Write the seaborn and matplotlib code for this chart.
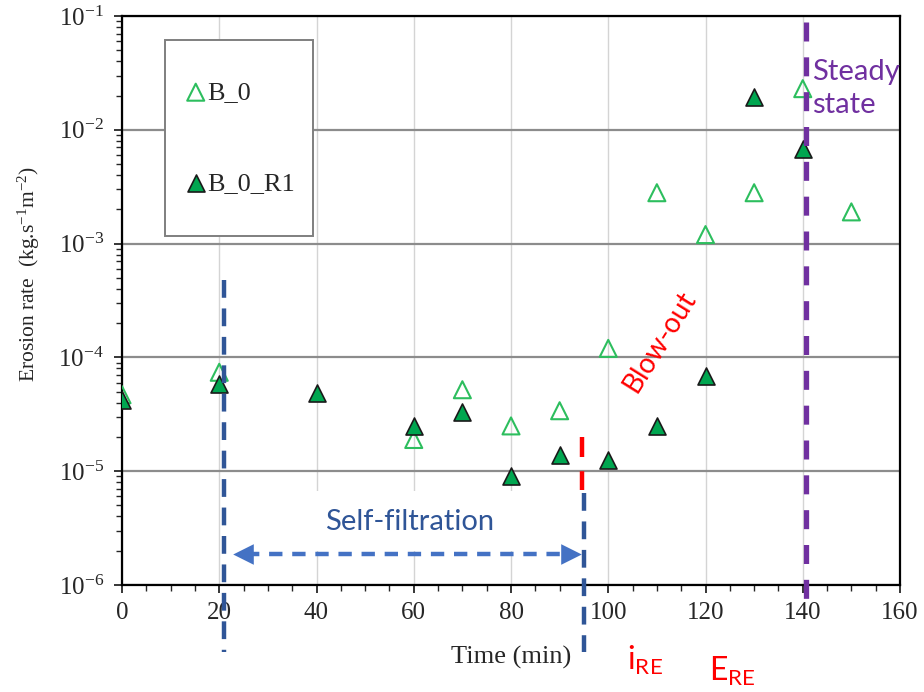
import numpy as np
import pandas as pd
import matplotlib
matplotlib.use("Agg")
import matplotlib.pyplot as plt
import seaborn as sns
from matplotlib.ticker import MultipleLocator, LogLocator, LogFormatterSciNotation, NullFormatter
from matplotlib.patches import Rectangle

# dados
time_b0 = [0, 20, 60, 70, 80, 90, 100, 110, 120, 130, 140, 150]
rate_b0 = [4.7e-5, 7.4e-5, 1.9e-5, 5.2e-5, 2.5e-5, 3.4e-5, 1.2e-4, 2.8e-3, 1.2e-3, 2.8e-3, 2.3e-2, 1.9e-3]

time_r1 = [0, 20, 40, 60, 70, 80, 90, 100, 110, 120, 130, 140]
rate_r1 = [4.2e-5, 5.8e-5, 4.9e-5, 2.5e-5, 3.3e-5, 9.1e-6, 1.4e-5, 1.25e-5, 2.5e-5, 6.9e-5, 1.95e-2, 6.8e-3]

# anotacoes
t_start = 21.0      # inicio self-filtration
t_ire = 95.0        # i_RE / blow-out
t_steady = 140.7    # steady state

df_b0 = pd.DataFrame({"time": time_b0, "rate": rate_b0})
df_r1 = pd.DataFrame({"time": time_r1, "rate": rate_r1})

sns.set_style("ticks")
plt.rcParams["font.family"] = ["Liberation Serif", "DejaVu Serif"]
plt.rcParams["mathtext.fontset"] = "custom"
plt.rcParams["mathtext.rm"] = "Liberation Serif"

SANS = ["Lato", "DejaVu Sans"]
DARKBLUE = "#2F5597"
ARROWBLUE = "#4472C4"
RED = "#FF0000"
PURPLE = "#7030A0"

fig = plt.figure(figsize=(9.24, 6.92), dpi=100)
ax = fig.add_axes([122 / 924, 1 - 585 / 692, 778 / 924, 569 / 692])

sns.scatterplot(data=df_b0, x="time", y="rate", marker="^", s=150,
                color="#2DBE5E", facecolor="none", edgecolor="#2DBE5E",
                linewidth=1.5, label="B_0", ax=ax, zorder=3)
sns.scatterplot(data=df_r1, x="time", y="rate", marker="^", s=150,
                color="#00A650", edgecolor="#1a1a1a",
                linewidth=1.2, label="B_0_R1", ax=ax, zorder=4)

ax.set_yscale("log")
ax.set_xlim(0, 160)
ax.set_ylim(1e-6, 1e-1)

ax.xaxis.set_major_locator(MultipleLocator(20))
ax.xaxis.set_minor_locator(MultipleLocator(5))
ax.yaxis.set_major_locator(LogLocator(base=10))
ax.yaxis.set_minor_locator(LogLocator(base=10, subs=np.arange(2, 10)))
ax.yaxis.set_major_formatter(LogFormatterSciNotation())
ax.yaxis.set_minor_formatter(NullFormatter())

ax.tick_params(axis="both", which="major", labelsize=18, length=6, width=1.3, direction="out", pad=6)
ax.tick_params(axis="both", which="minor", length=4, width=1.0, direction="out")
ax.tick_params(axis="y", which="major", labelsize=18, pad=7)

for sp in ax.spines.values():
    sp.set_linewidth(1.6)
    sp.set_color("black")

ax.set_axisbelow(True)
ax.yaxis.grid(True, which="major", color="#8c8c8c", lw=1.6)
ax.xaxis.grid(True, which="major", color="#d4d4d4", lw=1.0)

ax.set_xlabel("Time (min)", fontsize=19, labelpad=16)
ax.set_ylabel("Erosion rate  (kg.s$\\mathregular{^{-1}}$m$\\mathregular{^{-2}}$)",
              fontsize=15.5, labelpad=12, y=0.547)

# caixa da legenda
ax.add_patch(Rectangle((0.0553, 0.613), 0.190, 0.345, transform=ax.transAxes,
                       facecolor="white", edgecolor="#7f7f7f", lw=1.4, zorder=2))
leg = ax.legend(loc="center", bbox_to_anchor=(0.152, 0.786), frameon=False,
                fontsize=19, labelspacing=2.55, handletextpad=0.05,
                handlelength=0.8, markerscale=1.0)
leg.set_zorder(5)

# fundo branco atras do texto self-filtration
ax.add_patch(Rectangle((22.5, 2.0e-6), 72.5, 4.7e-6, facecolor="white",
                       edgecolor="none", zorder=1))

# linhas verticais tracejadas
ax.plot([t_start, t_start], [4.8e-4, 2.6e-7], color=DARKBLUE, lw=3.2,
        dashes=(4.0, 2.4), clip_on=False, zorder=6)
ax.plot([t_ire, t_ire], [6.4e-6, 2.6e-7], color=DARKBLUE, lw=3.2,
        dashes=(4.0, 2.4), clip_on=False, zorder=6)
ax.plot([t_ire - 0.3, t_ire - 0.3], [2.0e-5, 6.9e-6], color=RED, lw=3.2,
        dashes=(4.5, 3.2), clip_on=False, zorder=6)
ax.plot([t_steady, t_steady], [8.9e-2, 7.6e-7], color=PURPLE, lw=3.8,
        dashes=(3.6, 3.0), clip_on=False, zorder=6)

# seta self-filtration
y_arrow = 1.86e-6
ax.plot([25.5, 91.5], [y_arrow, y_arrow], color=ARROWBLUE, lw=3.2,
        dashes=(3.0, 2.2), zorder=6)
ax.scatter([24.8], [y_arrow], marker="<", s=220, color=ARROWBLUE, lw=0, zorder=6)
ax.scatter([92.3], [y_arrow], marker=">", s=220, color=ARROWBLUE, lw=0, zorder=6)

ax.text(59.2, 3.6e-6, "Self-filtration", family=SANS, fontsize=21,
        color=DARKBLUE, ha="center", va="center", zorder=7)
ax.text(110.6, 1.38e-4, "Blow-out", family=SANS, fontsize=20, color=RED,
        rotation=58, ha="center", va="center", zorder=7)
ax.text(142.0, 0.023, "Steady\nstate", family=SANS, fontsize=21,
        color=PURPLE, ha="left", va="center", linespacing=1.3, zorder=7)

fig.text(627 / 924, 0.032, "$\\mathregular{i_{RE}}$", family=SANS, fontsize=23,
         color=RED, ha="left", va="baseline")
fig.text(709 / 924, 0.016, "$\\mathregular{E_{RE}}$", family=SANS, fontsize=23,
         color=RED, ha="left", va="baseline")

fig.savefig("out.png", dpi=100)
